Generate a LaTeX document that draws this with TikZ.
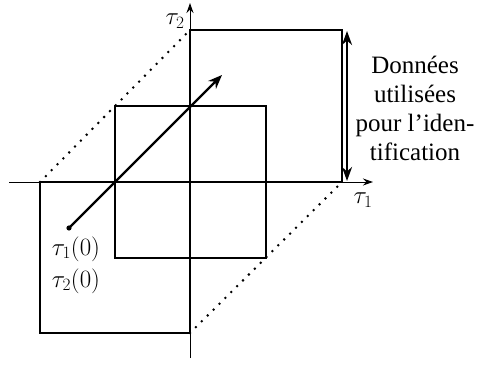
\documentclass[tikz,border=0pt]{standalone}
\usepackage{fontspec}
\setmainfont{Liberation Serif}
\usetikzlibrary{arrows.meta}
\begin{document}
\begin{tikzpicture}[x=1pt,y=-1pt,
  axis/.style={line width=1pt,-{Stealth[length=10pt,width=7pt]}},
  sq/.style={line width=2.6pt,line join=miter},
  dots/.style={line width=2.8pt,line cap=round,dash pattern=on 0pt off 8.3pt},
  diag/.style={line width=2.4pt,-{Stealth[length=14pt,width=11pt]}},
  lbl/.style={font=\fontsize{26.5}{30}\selectfont,inner sep=0pt},
]
\useasboundingbox (0,0) rectangle (478,366);
% axes
\coordinate (xs) at (9,182);
\coordinate (xe) at (373,182);
\coordinate (ys) at (190,358);
\coordinate (ye) at (190,3);
\draw[axis] (xs) -- (xe);
\draw[axis] (ys) -- (ye);
% squares
\coordinate (a1) at (40,182); \coordinate (a2) at (190,333);
\coordinate (b1) at (115,106); \coordinate (b2) at (266,258);
\coordinate (c1) at (190,30); \coordinate (c2) at (342,182);
\draw[sq] (a1) rectangle (a2);
\draw[sq] (b1) rectangle (b2);
\draw[sq] (c1) rectangle (c2);
% dotted lines
\draw[dots] (a1) -- (c1);
\draw[dots] (a2) -- (c2);
% diagonal arrow
\coordinate (p0) at (69,228);
\coordinate (p1) at (222,75);
\fill (p0) circle (2.6pt);
\draw[diag] (p0) -- (p1);
% double arrow
\coordinate (d1) at (347,31);
\coordinate (d2) at (347,181);
\draw[line width=2.4pt,{Stealth[length=14pt,width=10pt]}-{Stealth[length=14pt,width=10pt]}] (d1) -- (d2);
% labels
\node[lbl] (t2) at (175,21) {$\tau_2$};
\node[lbl] (t1) at (363,200) {$\tau_1$};
\node[lbl] (t10) at (76,249) {$\tau_1(0)$};
\node[lbl] (t20) at (76,281) {$\tau_2(0)$};
\node[lbl,align=center,font=\fontsize{25}{29}\selectfont] (txt) at (415,108) {Données\\utilisées\\pour l’iden-\\tification};
\end{tikzpicture}
\end{document}
